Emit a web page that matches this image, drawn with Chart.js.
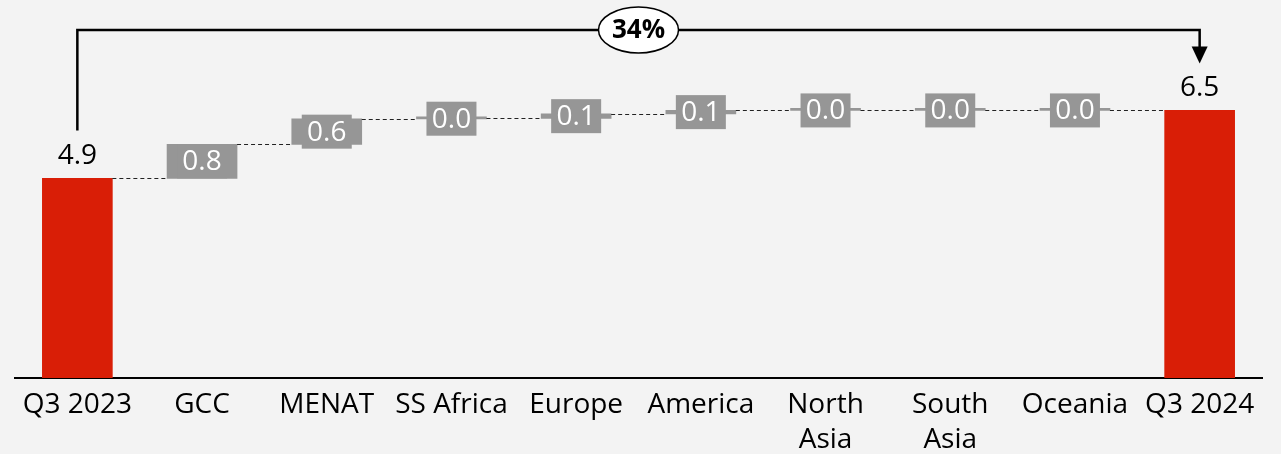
<!DOCTYPE html>
<html>
<head>
<meta charset="utf-8">
<script src="https://cdn.jsdelivr.net/npm/chart.js@4.4.1/dist/chart.umd.min.js"></script>
<style>
  html, body { margin: 0; padding: 0; background: #f3f3f3; }
  #wrap { width: 1281px; height: 454px; position: relative; }
</style>
</head>
<body>
<div id="wrap"><canvas id="chart"></canvas></div>
<script>
// Waterfall: Q3 2023 -> regional contributions -> Q3 2024
const categories = ['Q3 2023', 'GCC', 'MENAT', 'SS Africa', 'Europe', 'America',
  ['North', 'Asia'], ['South', 'Asia'], 'Oceania', 'Q3 2024'];
const startValue = 4.9;
const deltas = [0.8, 0.6, 0.01, 0.11, 0.08, 0.0, 0.0, 0.0];
const endValue = 6.5;
const growthLabel = '34%';

const RED = '#d91e06';
const GREY = '#969696';
const FONT = "'Open Sans', 'Noto Sans', sans-serif";

// build floating bars [from, to]
const bars = [[0, startValue]];
let level = startValue;
deltas.forEach((d) => {
  bars.push([level, level + d]);
  level += d;
});
bars.push([0, endValue]);

const colors = bars.map((b, i) => (i === 0 || i === bars.length - 1 ? RED : GREY));
const labelValues = [startValue, ...deltas, endValue];

// labels + dashed connectors
const waterfallLabels = {
  id: 'waterfallLabels',
  afterDatasetsDraw(chart) {
    const { ctx, scales: { y } } = chart;
    const meta = chart.getDatasetMeta(0);
    const last = bars.length - 1;

    // connectors
    ctx.save();
    ctx.strokeStyle = '#222';
    ctx.lineWidth = 1;
    ctx.setLineDash([4, 3]);
    for (let i = 0; i < last; i++) {
      const a = meta.data[i];
      const b = meta.data[i + 1];
      const yy = Math.round(y.getPixelForValue(bars[i][1])) + 0.5;
      ctx.beginPath();
      ctx.moveTo(a.x + a.width / 2, yy);
      ctx.lineTo(b.x - b.width / 2, yy);
      ctx.stroke();
    }
    ctx.restore();

    ctx.save();
    ctx.textAlign = 'center';
    ctx.textBaseline = 'middle';
    ctx.font = `28px ${FONT}`;
    meta.data.forEach((el, i) => {
      const txt = labelValues[i].toFixed(1);
      if (i === 0 || i === last) {
        ctx.fillStyle = '#000';
        ctx.fillText(txt, el.x, y.getPixelForValue(bars[i][1]) - 22);
      } else {
        const mid = y.getPixelForValue((bars[i][0] + bars[i][1]) / 2);
        ctx.fillStyle = GREY;
        ctx.fillRect(el.x - 25, mid - 17, 50, 34);
        ctx.fillStyle = '#fff';
        ctx.fillText(txt, el.x, mid + 1);
      }
    });
    ctx.restore();
  },
};

// growth bracket across the top
const growthBracket = {
  id: 'growthBracket',
  afterDraw(chart) {
    const { ctx, scales: { x, y } } = chart;
    const last = bars.length - 1;
    const x0 = x.getPixelForValue(0);
    const x1 = x.getPixelForValue(last);
    const top = 30;
    const y0 = y.getPixelForValue(startValue) - 48;
    const y1 = y.getPixelForValue(endValue) - 47;

    ctx.save();
    ctx.strokeStyle = '#000';
    ctx.lineWidth = 2.5;
    ctx.beginPath();
    ctx.moveTo(x0, y0);
    ctx.lineTo(x0, top);
    ctx.lineTo(x1, top);
    ctx.lineTo(x1, y1 - 14);
    ctx.stroke();
    ctx.fillStyle = '#000';
    ctx.beginPath();
    ctx.moveTo(x1 - 8, y1 - 17);
    ctx.lineTo(x1 + 8, y1 - 17);
    ctx.lineTo(x1, y1);
    ctx.closePath();
    ctx.fill();

    const cx = (x0 + x1) / 2;
    ctx.fillStyle = '#fff';
    ctx.lineWidth = 1.5;
    ctx.beginPath();
    ctx.ellipse(cx, top, 40, 23, 0, 0, Math.PI * 2);
    ctx.fill();
    ctx.stroke();
    ctx.fillStyle = '#000';
    ctx.font = `bold 26px ${FONT}`;
    ctx.textAlign = 'center';
    ctx.textBaseline = 'middle';
    ctx.fillText(growthLabel, cx, top + 1);
    ctx.restore();
  },
};

new Chart(document.getElementById('chart'), {
  type: 'bar',
  data: {
    labels: categories,
    datasets: [{
      data: bars,
      backgroundColor: colors,
      borderWidth: 0,
      barThickness: 70,
      minBarLength: 2,
    }],
  },
  options: {
    responsive: true,
    maintainAspectRatio: false,
    animation: false,
    layout: { padding: { left: 15, right: 19, top: 0, bottom: 0 } },
    plugins: {
      legend: { display: false },
      tooltip: { enabled: false },
    },
    scales: {
      x: {
        grid: { display: false, drawTicks: false },
        border: { color: '#000', width: 2 },
        ticks: {
          color: '#000',
          font: { family: FONT, size: 28, lineHeight: 1.25 },
          padding: 10,
          autoSkip: false,
          maxRotation: 0,
        },
        afterFit: (scale) => { scale.height = 76; },
      },
      y: {
        display: false,
        min: 0.2,
        max: 9.1,
      },
    },
  },
  plugins: [waterfallLabels, growthBracket],
});
</script>
</body>
</html>
